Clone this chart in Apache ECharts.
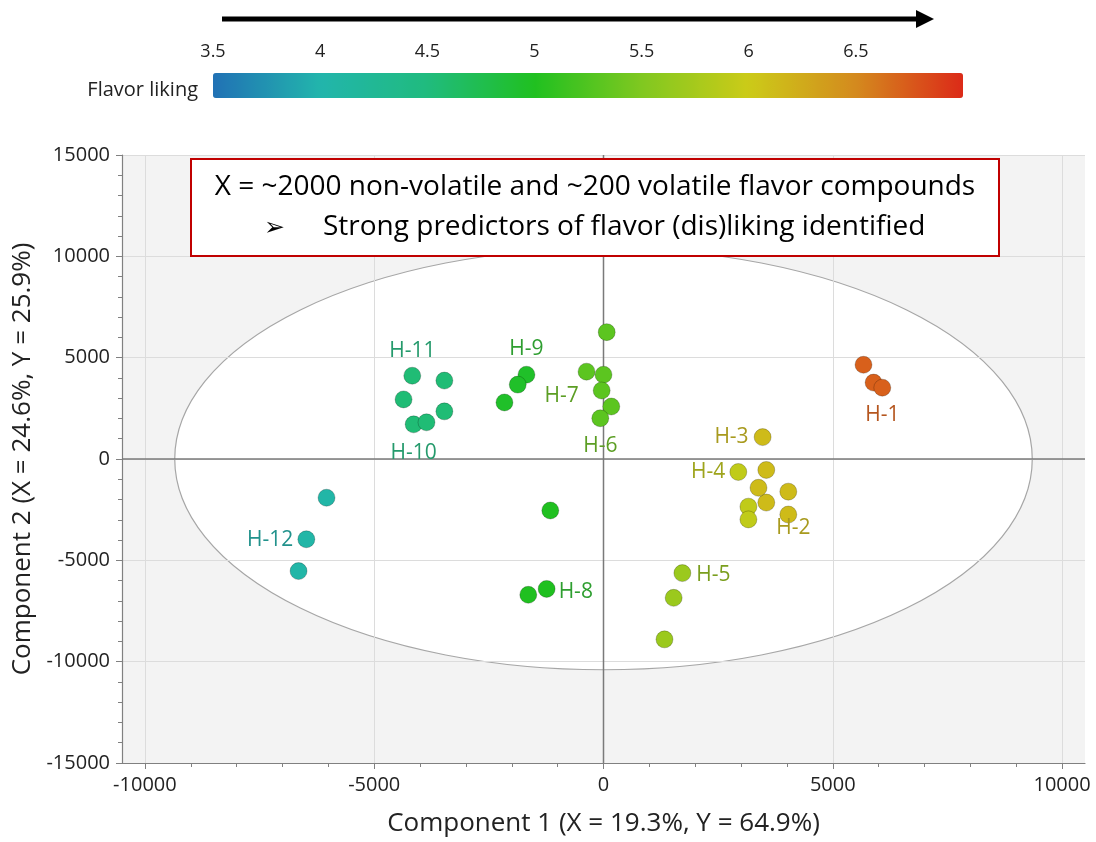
<!DOCTYPE html>
<html>
<head>
<meta charset="utf-8">
<script src="https://cdn.jsdelivr.net/npm/echarts@6/dist/echarts.min.js"></script>
<style>html,body{margin:0;padding:0;background:#fff}#c{width:1096px;height:842px}</style>
</head>
<body>
<div id="c"></div>
<script>
// ---- data ----
const groups = ['H-1','H-2','H-3','H-4','H-5','H-6','H-7','H-8','H-9','H-10','H-11','H-12'];
const liking = [6.72, 6.12, 6.12, 5.92, 5.68, 5.31, 5.31, 5.0, 4.95, 4.55, 4.55, 4.05];
const comp1 = [
  [5670, 5890, 6080],
  [4030, 3550, 4030],
  [3470, 3550, 3380],
  [2940, 3160, 3160],
  [1720, 1530, 1330],
  [70, 170, -70],
  [-370, 0, -40],
  [-1160, -1640, -1240],
  [-1680, -1870, -2160],
  [-3470, -4140, -3860],
  [-4170, -3470, -4360],
  [-6040, -6480, -6650]
];
const comp2 = [
  [4650, 3770, 3520],
  [-1610, -2150, -2740],
  [1080, -540, -1420],
  [-640, -2350, -2980],
  [-5630, -6850, -8900],
  [6260, 2590, 2010],
  [4310, 4160, 3380],
  [-2540, -6700, -6410],
  [4160, 3670, 2790],
  [2350, 1710, 1810],
  [4110, 3870, 2940],
  [-1910, -3960, -5530]
];
const xTicks = [-10000, -5000, 0, 5000, 10000];
const ellipseRadii = [9350, 10400];
const likingRange = [3.5, 7.0];
const xTitle = 'Component 1 (X = 19.3%, Y = 64.9%)';
const yTitle = 'Component 2 (X = 24.6%, Y = 25.9%)';
const noteLine1 = 'X = ~2000 non-volatile and ~200 volatile flavor compounds';
const noteLine2 = 'Strong predictors of flavor (dis)liking identified';
const colorbarCaption = 'Flavor liking';

// ---- styles ----
const FONT = '"Open Sans", "DejaVu Sans", sans-serif';
const labelSpec = [
  {i: 2, pos: 'bottom', d: 8,  off: [0, 0],  c: '#b5561f'},
  {i: 2, pos: 'bottom', d: 0,  off: [5, -6], c: '#a89a1e'},
  {i: 0, pos: 'left',   d: 5,  off: [0, 0],  c: '#a89a1e'},
  {i: 0, pos: 'left',   d: 4,  off: [0, 0],  c: '#9ea41c'},
  {i: 0, pos: 'right',  d: 5,  off: [0, 2],  c: '#7a9e1e'},
  {i: 2, pos: 'bottom', d: 8,  off: [0, 0],  c: '#5c9e24'},
  {i: 2, pos: 'left',   d: 14, off: [0, 6],  c: '#5c9e24'},
  {i: 2, pos: 'right',  d: 3,  off: [0, 3],  c: '#2e9e30'},
  {i: 0, pos: 'top',    d: 6,  off: [0, 0],  c: '#2e9e30'},
  {i: 1, pos: 'bottom', d: 9,  off: [0, 0],  c: '#259a6c'},
  {i: 0, pos: 'top',    d: 5,  off: [0, 0],  c: '#259a6c'},
  {i: 1, pos: 'left',   d: 4,  off: [0, 1],  c: '#22928c'}
];
const barColors = ['#2171b5','#22b5ac','#20bb7e','#20c020','#80c820','#cccb18','#d48a1e','#dc2a18'];

const chart = echarts.init(document.getElementById('c'), null, {renderer: 'canvas'});

const scatterSeries = groups.map((g, gi) => ({
  type: 'scatter',
  name: g,
  xAxisIndex: 0, yAxisIndex: 0,
  z: 3,
  symbol: 'circle',
  symbolSize: 17,
  itemStyle: {borderColor: 'rgba(0,0,0,0.22)', borderWidth: 1, opacity: 1},
  emphasis: {disabled: true},
  data: comp1[gi].map((x, k) => {
    const item = {value: [x, comp2[gi][k], liking[gi]]};
    const s = labelSpec[gi];
    if (k === s.i) {
      item.label = {
        show: true, formatter: g, position: s.pos, distance: s.d, offset: s.off,
        color: s.c, fontSize: 21, fontFamily: FONT
      };
    }
    return item;
  })
}));

const plainNum = v => String(v);

const option = {
  animation: false,
  backgroundColor: '#ffffff',
  grid: [
    {left: 122, right: 11, top: 155, bottom: 72, show: true, backgroundColor: '#f3f3f3', borderWidth: 0, z: -2},
    {left: 213, width: 750, top: 73, height: 25, show: false}
  ],
  xAxis: [
    {
      gridIndex: 0, type: 'value', min: -10500, max: 10500,
      name: xTitle, nameLocation: 'middle', nameGap: 48,
      nameTextStyle: {fontSize: 26, color: '#222', fontFamily: FONT},
      axisLine: {onZero: false, lineStyle: {color: '#808080', width: 1.2}},
      axisTick: {show: true, length: 6, customValues: xTicks, lineStyle: {color: '#808080'}},
      minorTick: {show: true, splitNumber: 5, length: 4, lineStyle: {color: '#808080'}},
      axisLabel: {customValues: xTicks, formatter: plainNum, margin: 12, fontSize: 20, color: '#222', fontFamily: FONT},
      splitLine: {show: true, lineStyle: {color: '#dcdcdc', width: 1}}
    },
    {
      gridIndex: 1, type: 'value', min: likingRange[0], max: likingRange[1], interval: 0.5,
      position: 'top',
      axisLine: {show: false}, axisTick: {show: false}, splitLine: {show: false},
      axisLabel: {show: true, showMaxLabel: false, margin: 12, fontSize: 18, color: '#222', fontFamily: FONT}
    }
  ],
  yAxis: [
    {
      gridIndex: 0, type: 'value', min: -15000, max: 15000, interval: 5000,
      name: yTitle, nameLocation: 'middle', nameGap: 68, nameRotate: 90,
      nameTextStyle: {fontSize: 26, color: '#222', fontFamily: FONT},
      axisLine: {show: true, onZero: false, lineStyle: {color: '#808080', width: 1.2}},
      axisTick: {show: true, length: 6, lineStyle: {color: '#808080'}},
      minorTick: {show: true, splitNumber: 5, length: 4, lineStyle: {color: '#808080'}},
      axisLabel: {formatter: plainNum, margin: 12, fontSize: 20, color: '#222', fontFamily: FONT},
      splitLine: {show: true, lineStyle: {color: '#dcdcdc', width: 1}}
    },
    {gridIndex: 1, type: 'value', show: false, min: 0, max: 1}
  ],
  visualMap: {
    type: 'continuous',
    min: likingRange[0], max: likingRange[1],
    dimension: 2,
    seriesIndex: groups.map((g, i) => i + 2),
    orient: 'horizontal',
    left: 213, top: 73, padding: 0,
    itemWidth: 25, itemHeight: 750,
    calculable: false, hoverLink: false,
    text: null, showLabel: false,
    inRange: {color: barColors}
  },
  graphic: [
    // direction arrow
    {type: 'line', z: 50, shape: {x1: 222, y1: 19, x2: 920, y2: 19}, style: {stroke: '#000', lineWidth: 5}},
    {type: 'polygon', z: 50, shape: {points: [[916, 10], [934, 19], [916, 28]]}, style: {fill: '#000'}},
    // colorbar caption
    {type: 'text', z: 50, x: 198, y: 90, style: {text: colorbarCaption, fontSize: 20, fill: '#222', fontFamily: FONT, align: 'right', verticalAlign: 'middle'}},
    // annotation box
    {type: 'rect', z: 60, shape: {x: 191, y: 159, width: 808, height: 97}, style: {fill: '#fff', stroke: '#c00000', lineWidth: 2}},
    {type: 'text', z: 61, x: 595, y: 187, style: {text: noteLine1, fontSize: 28, fill: '#000', fontFamily: FONT, align: 'center', verticalAlign: 'middle'}},
    {type: 'text', z: 61, x: 264, y: 228, style: {text: '\u27A2', fontSize: 25, fontWeight: 'bold', fill: '#000', fontFamily: '"DejaVu Sans", sans-serif', align: 'left', verticalAlign: 'middle'}},
    {type: 'text', z: 61, x: 323, y: 227, style: {text: noteLine2, fontSize: 28, fill: '#000', fontFamily: FONT, align: 'left', verticalAlign: 'middle'}}
  ],
  series: [
    {
      type: 'custom',
      xAxisIndex: 0, yAxisIndex: 0,
      z: -1,
      silent: true,
      data: [[0, 0]],
      encode: {x: 0, y: 1},
      renderItem: function (params, api) {
        const c = api.coord([api.value(0), api.value(1)]);
        const s = api.size(ellipseRadii);
        const rx = s[0], ry = s[1];
        const d = 'M ' + (c[0] - rx) + ' ' + c[1] +
          ' A ' + rx + ' ' + ry + ' 0 1 0 ' + (c[0] + rx) + ' ' + c[1] +
          ' A ' + rx + ' ' + ry + ' 0 1 0 ' + (c[0] - rx) + ' ' + c[1] + ' Z';
        return {type: 'path', shape: {pathData: d}, style: {fill: '#ffffff', stroke: '#a6a6a6', lineWidth: 1.2}};
      }
    },
    {
      type: 'custom',
      xAxisIndex: 0, yAxisIndex: 0,
      z: 1,
      silent: true,
      data: [[0, 0]],
      encode: {x: 0, y: 1},
      renderItem: function (params, api) {
        const c = api.coord([api.value(0), api.value(1)]);
        const cs = params.coordSys;
        return {
          type: 'group',
          children: [
            {type: 'line', shape: {x1: cs.x, y1: c[1], x2: cs.x + cs.width, y2: c[1]}, style: {stroke: '#7a7a7a', lineWidth: 1.5}},
            {type: 'line', shape: {x1: c[0], y1: cs.y, x2: c[0], y2: cs.y + cs.height}, style: {stroke: '#7a7a7a', lineWidth: 1.5}}
          ]
        };
      }
    }
  ].concat(scatterSeries).concat([
    {type: 'scatter', xAxisIndex: 1, yAxisIndex: 1, data: [], silent: true}
  ])
};
chart.setOption(option);
</script>
</body>
</html>
